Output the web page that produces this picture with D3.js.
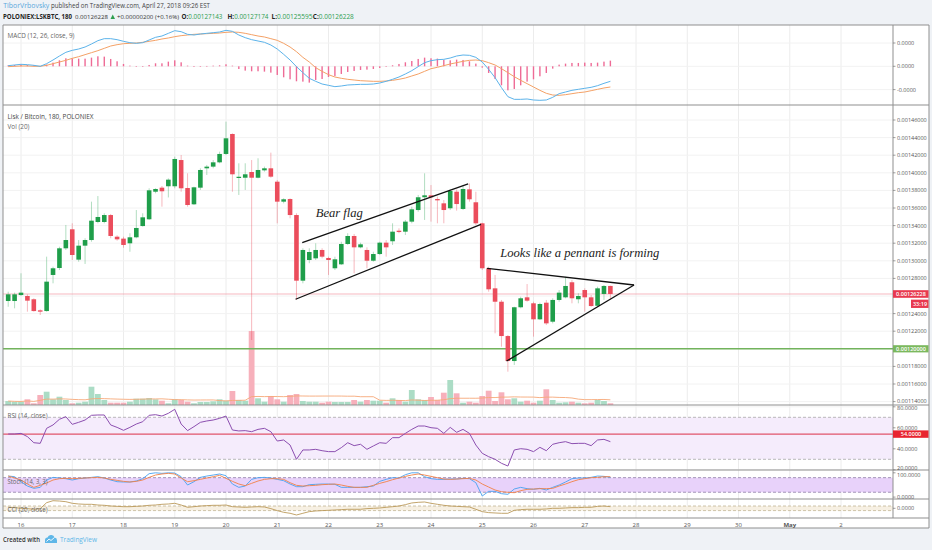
<!DOCTYPE html>
<html><head><meta charset="utf-8">
<script src="https://cdn.jsdelivr.net/npm/d3@7/dist/d3.min.js"></script>
<style>
html,body{margin:0;padding:0;background:#eff2f6;}
svg{display:block;font-family:"Open Sans","Noto Sans",Lato,sans-serif;}
</style></head><body>
<svg id="chart" width="932" height="550"></svg>
<script>
// ---------- DATA (LSK/BTC, 3h candles, Poloniex) ----------
const firstCandle = Date.UTC(2018, 3, 15, 18); // first visible bar
const barHours = 3;

const open = [0.0012543,0.0012543,0.0012611,0.0012600,0.0012563,0.0012437,0.0012429,0.0012839,0.0012918,0.0013142,
0.0013358,0.0013013,0.0013172,0.0013236,0.0013441,0.0013441,0.0013520,0.0013274,0.0013252,0.0013199,
0.0013267,0.0013395,0.0013472,0.0013785,0.0013831,0.0013847,0.0013847,0.0014145,0.0013827,0.0013642,
0.0013831,0.0014051,0.0014070,0.0014119,0.0014214,0.0014441,0.0013941,0.0013944,0.0014009,0.0013944,
0.0014028,0.0014051,0.0013899,0.0013672,0.0013702,0.0013520,0.0012774,0.0013009,0.0013028,0.0013123,
0.0013032,0.0012915,0.0012960,0.0013191,0.0013282,0.0013153,0.0013123,0.0013001,0.0013077,0.0013206,
0.0013222,0.0013342,0.0013331,0.0013445,0.0013577,0.0013722,0.0013744,0.0013702,0.0013653,0.0013597,
0.0013785,0.0013589,0.0013812,0.0013665,0.0013426,0.0012915,0.0012687,0.0012535,0.0012145,0.0011861,
0.0012472,0.0012585,0.0012517,0.0012335,0.0012524,0.0012308,0.0012555,0.0012585,0.0012756,0.0012563,
0.0012668,0.0012585,0.0012489,0.0012623,0.00127143];
const high = [0.0012649,0.0012638,0.0012858,0.0012619,0.0012574,0.0012449,0.0013047,0.0012933,0.0013160,0.0013407,
0.0013426,0.0013236,0.0013256,0.0013672,0.0013736,0.0013540,0.0013532,0.0013290,0.0013274,0.0013313,
0.0013577,0.0013540,0.0013824,0.0013824,0.0013850,0.0013937,0.0014183,0.0014202,0.0013994,0.0013842,
0.0014051,0.0014089,0.0014145,0.0014240,0.0014581,0.0014448,0.0014108,0.0014108,0.0014145,0.0014165,
0.0014070,0.0014229,0.0013918,0.0013710,0.0013710,0.0013540,0.0013142,0.0013142,0.0013199,0.0013142,
0.0013047,0.0013047,0.0013217,0.0013313,0.0013305,0.0013206,0.0013153,0.0013103,0.0013217,0.0013236,
0.0013426,0.0013369,0.0013464,0.0013615,0.0013748,0.0013994,0.0013861,0.0013729,0.0013691,0.0013812,
0.0013810,0.0013861,0.0013880,0.0013785,0.0013433,0.0012933,0.0012839,0.0012555,0.0012157,0.0012478,
0.0012592,0.0012736,0.0012535,0.0012524,0.0012555,0.0012574,0.0012668,0.0012819,0.0012782,0.0012631,
0.0012687,0.0012611,0.0012706,0.0012725,0.00127174];
const low = [0.0012478,0.0012460,0.0012600,0.0012422,0.0012422,0.0012384,0.0012422,0.0012744,0.0012895,0.0013123,
0.0013009,0.0012990,0.0012964,0.0013217,0.0013426,0.0013426,0.0013256,0.0013229,0.0013149,0.0013103,
0.0013256,0.0013388,0.0013464,0.0013767,0.0013615,0.0013720,0.0013824,0.0013785,0.0013615,0.0013634,
0.0013805,0.0013975,0.0014051,0.0014108,0.0014202,0.0013785,0.0013748,0.0013805,0.0012100,0.0013937,
0.0014013,0.0013944,0.0013426,0.0013653,0.0013483,0.0012555,0.0012744,0.0012972,0.0013009,0.0013028,
0.0012839,0.0012895,0.0012952,0.0013180,0.0012858,0.0013142,0.0012915,0.0012990,0.0013066,0.0013047,
0.0013180,0.0013313,0.0013293,0.0013426,0.0013558,0.0013464,0.0013445,0.0013426,0.0013426,0.0013577,
0.0013570,0.0013577,0.0013672,0.0013407,0.0012895,0.0012649,0.0012176,0.0012024,0.0011740,0.0011816,
0.0012460,0.0012535,0.0012138,0.0012327,0.0012270,0.0012289,0.0012535,0.0012574,0.0012517,0.0012517,
0.0012422,0.0012478,0.0012478,0.0012555,0.00125595];
const close = [0.0012619,0.0012619,0.0012638,0.0012547,0.0012429,0.0012422,0.0012763,0.0012915,0.0013142,0.0013236,
0.0013066,0.0013172,0.0013236,0.0013456,0.0013498,0.0013520,0.0013282,0.0013244,0.0013180,0.0013267,
0.0013373,0.0013494,0.0013801,0.0013816,0.0013790,0.0013922,0.0014157,0.0013824,0.0013634,0.0013835,
0.0014032,0.0014070,0.0014119,0.0014214,0.0014392,0.0013983,0.0013955,0.0013983,0.0013944,0.0014032,
0.0014051,0.0013956,0.0013672,0.0013699,0.0013520,0.0012774,0.0013123,0.0013100,0.0013123,0.0013047,
0.0013009,0.0013017,0.0013191,0.0013282,0.0013153,0.0013187,0.0013001,0.0013077,0.0013206,0.0013153,
0.0013331,0.0013327,0.0013445,0.0013585,0.0013722,0.0013744,0.0013722,0.0013687,0.0013577,0.0013793,
0.0013645,0.0013816,0.0013699,0.0013426,0.0012915,0.0012676,0.0012535,0.0012145,0.0011861,0.0012472,
0.0012574,0.0012547,0.0012335,0.0012509,0.0012289,0.0012555,0.0012638,0.0012714,0.0012574,0.0012600,
0.0012585,0.0012486,0.0012687,0.0012714,0.00126228];
// volume (BTC)
const volume = [40,33,33,57,17,100,133,57,83,50,17,23,33,183,110,50,23,23,23,33,
63,63,70,57,43,17,57,50,33,17,30,30,37,57,43,140,50,43,740,67,
33,90,57,33,100,110,40,33,33,23,33,30,30,30,50,33,50,43,43,23,
67,50,33,150,57,50,80,50,123,250,117,23,33,23,90,143,40,127,57,67,
33,43,23,43,157,50,23,27,33,23,17,23,50,40,17];
// MACD (12,26,9) in µBTC
const macdLine = [0.27,0.56,0.85,0.7,0.42,0,1.13,2.7,4.42,6.0,
6.85,7.42,8.28,9.57,11.0,11.86,11.86,11.43,10.72,10.14,
9.86,10.14,11.29,12.43,13.0,14.15,15.29,14.86,13.72,13.43,
13.86,14.15,14.43,14.72,15.44,15.0,13.43,12.29,11.43,10.86,
10.29,9.14,7.42,5.14,2.7,-0.15,-2.73,-5.16,-6.45,-7.6,
-8.17,-8.74,-8.45,-8.03,-7.88,-7.74,-7.74,-7.6,-7.17,-6.45,
-5.59,-4.59,-3.3,-1.88,-0.15,1.56,2.42,2.85,2.99,3.56,
4.42,4.85,4.71,3.85,1.85,-1.3,-4.88,-9.17,-13.03,-14.18,
-14.18,-14.03,-14.46,-14.6,-14.46,-13.32,-11.75,-11.03,-10.31,-9.88,
-9.45,-9.02,-8.31,-7.31,-6.45];
const signalLine = [-0.15,0,0.13,0.13,0,0,0.42,1.13,1.85,2.56,
3.42,4.13,5.0,5.85,6.71,7.71,8.71,9.28,9.71,9.86,
10.0,10.29,10.72,11.14,11.72,12.15,12.72,13.15,13.43,13.72,
13.86,14.0,14.15,14.29,14.58,14.72,14.58,14.15,13.58,13.0,
12.58,11.86,11.14,9.86,8.28,6.28,3.85,1.85,-0.59,-2.16,
-3.59,-4.59,-5.16,-5.59,-5.88,-6.17,-6.31,-6.45,-6.45,-6.31,
-6.02,-5.59,-5.02,-4.16,-3.3,-2.16,-1.02,-0.44,0.27,0.99,
1.56,2.13,2.56,2.7,2.42,1.56,0.56,-1.02,-2.73,-4.45,
-6.02,-7.45,-8.88,-10.31,-11.6,-12.32,-12.46,-12.18,-11.75,-11.32,
-11.03,-10.46,-9.88,-9.31,-8.88];
const rsi = [54.1,54.1,54.7,51.6,45.8,45.2,59.5,62.7,68.1,70.6,
63.3,65.2,67.4,71.9,72.2,72.2,62.7,60.4,57.6,60.4,
63.6,65.8,71.9,72.5,71.2,73.8,77.6,63.6,57.3,61.1,
65.2,66.5,67.4,69.0,71.2,57.9,57.0,57.3,56.3,58.5,
59.5,56.3,47.4,48.4,43.6,30.0,38.9,38.9,39.5,38.2,
37.3,37.3,41.1,45.8,43.0,44.3,39.5,42.7,45.8,45.2,
50.6,50.6,54.7,58.5,61.7,61.7,60.1,59.5,54.7,60.4,
55.7,58.5,54.7,43.6,35.7,32.5,30.0,26.2,23.6,38.9,
40.1,39.5,37.3,41.4,38.2,44.3,45.8,46.8,44.9,45.2,
45.2,43.0,48.4,49.0,46.8];
const stochK = [86.7,84.0,63.4,45.6,36.0,40.1,70.3,81.2,78.5,75.8,
70.3,75.8,78.5,81.2,84.0,78.5,70.3,63.4,62.1,62.1,
66.2,75.8,96.3,100,97.7,100,99.0,84.0,49.7,63.4,
81.2,86.7,90.8,95.0,88.1,53.8,40.1,45.6,73.0,79.9,
81.2,78.5,73.0,67.5,53.8,42.9,42.9,51.1,52.5,53.8,
53.8,52.5,40.1,40.1,40.1,40.1,42.9,45.6,64.8,73.0,
79.9,78.5,92.2,100,100,84.0,75.8,73.0,73.0,74.4,
74.4,77.1,75.8,59.3,4.5,23.7,23.7,14.1,11.4,33.3,
40.1,34.7,31.9,36.0,29.2,40.1,49.7,62.1,75.8,78.5,
78.5,81.2,86.7,85.3,81.2];
const stochD = [86.7,78.5,70.3,53.8,40.1,48.4,58.0,70.3,75.8,77.1,
75.8,77.1,78.5,79.9,81.2,78.5,73.0,68.9,64.8,62.1,
64.8,70.3,81.2,90.8,95.0,97.7,95.0,78.5,63.4,67.5,
73.0,78.5,84.0,89.5,77.1,64.8,53.8,47.0,56.6,66.2,
73.0,75.8,75.8,73.0,59.3,48.4,45.6,47.0,48.4,51.1,
52.5,53.8,49.7,44.2,40.1,40.1,40.1,48.4,56.6,63.4,
71.6,78.5,85.3,90.8,95.0,90.8,85.3,79.9,74.4,73.0,
74.4,75.8,77.1,70.3,53.8,41.5,29.2,22.3,19.6,18.2,
26.4,31.9,33.3,34.7,34.7,36.0,45.6,53.8,63.4,71.6,
75.8,79.9,81.2,84.0,84.0];
const cci = [43,29,0,-14,-43,-14,245,330,316,287,
217,187,174,174,143,130,100,85,70,70,
85,100,130,143,174,187,217,143,43,70,
100,116,130,130,143,70,57,43,57,70,
57,-14,-101,-174,-217,-290,-217,-145,-116,-101,
-87,-72,-58,-43,-43,-43,-14,0,14,43,
70,100,159,232,260,274,217,174,130,100,
85,70,57,-43,-145,-188,-203,-217,-217,-87,
-58,-43,-43,-43,-29,0,0,14,29,29,
43,43,85,100,70];

// ticks / labels
const dayLabels = ["16","17","18","19","20","21","22","23","24","25","26","27","28","29","30","May","2"];
const priceTicks = [0.00114,0.00116,0.00118,0.00120,0.00122,0.00124,0.00126,0.00128,0.00130,0.00132,0.00134,0.00136,0.00138,0.00140,0.00142,0.00144,0.00146];
const macdTicks = [10, 0, -10];
const rsiTicks = [80, 60, 40, 20];
const stochTicks = [100, 0];
const cciTicks = [0];

// user drawings: [bar index, price]
const trendLines = [
  [[45.9, 0.0013206], [71.8, 0.0013873]],
  [[44.86, 0.0012563], [73.8, 0.0013415]],
  [[74.75, 0.0012915], [97.7, 0.0012725]],
  [[77.8, 0.0011861], [97.7, 0.0012725]]
];
const notes = [
  {at: [48.0, 0.0013501], text: "Bear flag"},
  {at: [76.8, 0.0013043], text: "Looks like a pennant is forming"}
];
const supportLevel = 0.0012;
const lastPrice = 0.00126228;
const rsiLevel = 54;
const countdown = "33:19";

// ---------- LAYOUT ----------
const svg = d3.select("#chart");
const L = 3, R = 893, RR = 929, TOP = 25, BOT = 528;
const P = {macd:[25,105], price:[105,405], rsi:[405,470], stoch:[470,499], cci:[499,518]};
const n = close.length;
const H3 = barHours * 3600 * 1000;
const tOf = i => new Date(firstCandle + i * H3);

const x = d3.scaleUtc().domain([Date.UTC(2018,3,16), Date.UTC(2018,4,2)]).range([21, 841]);
const xi = i => x(tOf(i));
const yP = d3.scaleLinear().domain([0.00114, 0.00146]).range([401.6, 120]);
const yV = d3.scaleLinear().domain([0, 1000]).range([405, 305]);
const yM = d3.scaleLinear().domain([-10, 10]).range([89.6, 43]);
const yR = d3.scaleLinear().domain([30, 70]).range([459.3, 417.3]);
const yS = d3.scaleLinear().domain([0, 100]).range([497.1, 472.8]);
const yC = d3.scaleLinear().domain([-100, 100]).range([510.6, 506.0]);

const GREEN = "#1f9e4a", RED = "#eb4d5c";

svg.append("rect").attr("width",932).attr("height",550).attr("fill","#eff2f6");
svg.append("rect").attr("x",L).attr("y",TOP).attr("width",RR-L).attr("height",BOT-TOP).attr("fill","#fff");

const defs = svg.append("defs");
Object.entries(P).forEach(([k,[a,b]]) => {
  defs.append("clipPath").attr("id","clip-"+k).append("rect")
    .attr("x",L).attr("y",a).attr("width",R-L).attr("height",b-a);
});
const pane = k => svg.append("g").attr("clip-path",`url(#clip-${k})`);

function txt(g, X, Y, s, o = {}) {
  const t = g.append("text").attr("x",X).attr("y",Y).text(s)
    .attr("font-size", o.size || 6.5).attr("fill", o.fill || "#555");
  if (o.weight) t.attr("font-weight", o.weight);
  if (o.len) t.attr("textLength", o.len).attr("lengthAdjust","spacingAndGlyphs");
  if (o.anchor) t.attr("text-anchor", o.anchor);
  if (o.family) t.attr("font-family", o.family);
  if (o.style) t.attr("font-style", o.style);
  return t;
}

// ---------- GRID ----------
const days = d3.utcDay.range(Date.UTC(2018,3,16), Date.UTC(2018,4,3));
const grid = svg.append("g");
days.forEach(d => {
  grid.append("line").attr("x1",x(d)).attr("x2",x(d)).attr("y1",TOP).attr("y2",518)
    .attr("stroke","#ececec").attr("stroke-width",1);
});
const hgrid = (ticks, scale) => ticks.forEach(v => grid.append("line")
  .attr("x1",L).attr("x2",R).attr("y1",scale(v)).attr("y2",scale(v)).attr("stroke","#f2f2f2"));
hgrid(priceTicks, yP); hgrid(macdTicks, yM); hgrid(rsiTicks, yR);

// ---------- MACD ----------
const gM = pane("macd");
const hist = macdLine.map((v,i) => v - signalLine[i]);
gM.selectAll("rect.h").data(hist).join("rect")
  .attr("x",(d,i)=>xi(i)-0.7).attr("width",1.4)
  .attr("y",d=>Math.min(yM(d),yM(0))).attr("height",d=>Math.max(0.6,Math.abs(yM(d)-yM(0))))
  .attr("fill","#ee6b96");
const lineM = d3.line().x((d,i)=>xi(i)).y(d=>yM(d));
gM.append("path").attr("d",lineM(signalLine)).attr("fill","none").attr("stroke","#f4a166").attr("stroke-width",1);
gM.append("path").attr("d",lineM(macdLine)).attr("fill","none").attr("stroke","#5cb3ea").attr("stroke-width",1);

// ---------- PRICE ----------
const gP = pane("price");
gP.selectAll("rect.v").data(volume).join("rect")
  .attr("x",(d,i)=>xi(i)-2.9).attr("width",5.8)
  .attr("y",d=>yV(d)).attr("height",d=>yV(0)-yV(d))
  .attr("fill",(d,i)=> close[i] >= open[i] ? "#abdcc5" : "#f7b0bb");
const volMA = volume.map((v,i) => d3.mean(volume.slice(Math.max(0,i-19), i+1)));
gP.append("path").attr("d", d3.line().x((d,i)=>xi(i)).y(d=>yV(d))(volMA))
  .attr("fill","none").attr("stroke","#f6a878").attr("stroke-width",0.9);
gP.append("line").attr("x1",L).attr("x2",R).attr("y1",yP(lastPrice)).attr("y2",yP(lastPrice))
  .attr("stroke","#f4a6b1").attr("stroke-width",0.8);
gP.append("line").attr("x1",L).attr("x2",R).attr("y1",yP(supportLevel)).attr("y2",yP(supportLevel))
  .attr("stroke","#72b35c").attr("stroke-width",1.4);
const idx = d3.range(n);
gP.selectAll("line.w").data(idx).join("line")
  .attr("x1",i=>xi(i)).attr("x2",i=>xi(i)).attr("y1",i=>yP(high[i])).attr("y2",i=>yP(low[i]))
  .attr("stroke",i=> close[i]>=open[i] ? "rgba(31,158,74,0.35)" : "rgba(235,77,92,0.4)").attr("stroke-width",1);
gP.selectAll("rect.c").data(idx).join("rect")
  .attr("x",i=>xi(i)-2.3).attr("width",4.6)
  .attr("y",i=>yP(Math.max(open[i],close[i])))
  .attr("height",i=>Math.max(1, Math.abs(yP(open[i])-yP(close[i]))))
  .attr("fill",i=> close[i]>=open[i] ? GREEN : RED);
trendLines.forEach(([a,b]) => gP.append("line")
  .attr("x1",xi(a[0])).attr("y1",yP(a[1])).attr("x2",xi(b[0])).attr("y2",yP(b[1]))
  .attr("stroke","#111").attr("stroke-width",1.3));
notes.forEach(nt => txt(gP, xi(nt.at[0]), yP(nt.at[1]), nt.text,
  {size:12.6, fill:"#222", family:"'Liberation Serif','DejaVu Serif',serif", style:"italic"}));

// ---------- RSI ----------
const gR = pane("rsi");
gR.append("rect").attr("x",L).attr("width",R-L).attr("y",yR(70)).attr("height",yR(30)-yR(70)).attr("fill","#f5ecfc");
[70,30].forEach(v=>gR.append("line").attr("x1",L).attr("x2",R).attr("y1",yR(v)).attr("y2",yR(v))
  .attr("stroke","#a8a8a8").attr("stroke-dasharray","3,2").attr("stroke-width",0.8));
gR.append("line").attr("x1",L).attr("x2",R).attr("y1",yR(rsiLevel)).attr("y2",yR(rsiLevel))
  .attr("stroke","#e0556b").attr("stroke-width",1.3);
gR.append("path").attr("d", d3.line().x((d,i)=>xi(i)).y(d=>yR(d))(rsi))
  .attr("fill","none").attr("stroke","#8c4fb0").attr("stroke-width",1);

// ---------- STOCH ----------
const gS = pane("stoch");
gS.append("rect").attr("x",L).attr("width",R-L).attr("y",yS(80)).attr("height",yS(20)-yS(80)).attr("fill","#e8d2fa");
[80,20].forEach(v=>gS.append("line").attr("x1",L).attr("x2",R).attr("y1",yS(v)).attr("y2",yS(v))
  .attr("stroke","#8e7fa6").attr("stroke-dasharray","3,2").attr("stroke-width",0.8));
const lineS = d3.line().x((d,i)=>xi(i)).y(d=>yS(d));
gS.append("path").attr("d",lineS(stochK)).attr("fill","none").attr("stroke","#47a2ef").attr("stroke-width",0.9);
gS.append("path").attr("d",lineS(stochD)).attr("fill","none").attr("stroke","#f28146").attr("stroke-width",0.9);

// ---------- CCI ----------
const gC = pane("cci");
gC.append("rect").attr("x",L).attr("width",R-L).attr("y",yC(100)).attr("height",yC(-100)-yC(100)).attr("fill","#f7f0e3");
[100,-100].forEach(v=>gC.append("line").attr("x1",L).attr("x2",R).attr("y1",yC(v)).attr("y2",yC(v))
  .attr("stroke","#c2b595").attr("stroke-dasharray","3,2").attr("stroke-width",0.8));
gC.append("path").attr("d", d3.line().x((d,i)=>xi(i)).y(d=>yC(d))(cci))
  .attr("fill","none").attr("stroke","#bb9a5a").attr("stroke-width",0.9);

// ---------- FRAMES ----------
const fr = svg.append("g").attr("stroke","#8f8f8f").attr("stroke-width",1);
[25,105,405,470,499,518,528].forEach(y=>fr.append("line").attr("x1",L).attr("x2",RR).attr("y1",y).attr("y2",y));
fr.append("line").attr("x1",L).attr("x2",L).attr("y1",TOP).attr("y2",BOT);
fr.append("line").attr("x1",RR).attr("x2",RR).attr("y1",TOP).attr("y2",BOT);
fr.append("line").attr("x1",R).attr("x2",R).attr("y1",TOP).attr("y2",518);

// ---------- RIGHT AXES ----------
const ax = svg.append("g");
function axis(ticks, scale, fmt, hidden = [], dy = () => 0) {
  ticks.forEach(v => {
    const y = scale(v);
    ax.append("line").attr("x1",R).attr("x2",R+2.5).attr("y1",y).attr("y2",y).attr("stroke","#777").attr("stroke-width",0.7);
    if (hidden.some(h => Math.abs(scale(h) - y) < 5)) return; // covered by a price tag
    txt(ax, R+4, y+2+dy(v), fmt(v), {size:5.5, fill:"#555"});
  });
}
axis(macdTicks, yM, v => (v*1e-6).toFixed(4));
axis(priceTicks, yP, v => v.toFixed(8), [lastPrice, supportLevel], v => v === 0.00114 ? -1 : 0);
axis(rsiTicks, yR, v => v.toFixed(4), [], v => v === 20 ? -1.5 : (v === 80 ? 1.2 : 0));
axis(stochTicks, yS, v => v.toFixed(4), [], v => v === 100 ? 1.8 : 0);
axis(cciTicks, yC, v => v.toFixed(4));

function tag(y, h, x0, label, bg) {
  ax.append("rect").attr("x",x0).attr("y",y-h/2).attr("width",RR-x0-0.5).attr("height",h).attr("fill",bg);
  txt(ax, x0+(RR-x0)/2, y+1.9, label, {size:5.5, fill:"#fff", anchor:"middle", weight:600});
}
tag(yP(lastPrice), 7.6, R, lastPrice.toFixed(8), "#e8394f");
tag(yP(lastPrice)+9.8, 8.3, 911, countdown, "#e8394f");
tag(yP(supportLevel), 7.2, R, supportLevel.toFixed(8), "#7bb85e");
tag(yR(rsiLevel), 7.4, R, rsiLevel.toFixed(4), "#e8242f");

// ---------- TIME AXIS ----------
days.forEach((d,i) => {
  if (x(d) > R - 5) return;
  txt(svg, x(d), 526.5, dayLabels[i], {size:6, fill:"#555", anchor:"middle", weight: dayLabels[i]==="May" ? 700 : null});
});

// ---------- PANE TITLES ----------
txt(svg, 7.5, 37.5, "MACD (12, 26, close, 9)", {size:6.5, fill:"#666", len:67});
txt(svg, 7.5, 118.5, "Lisk / Bitcoin, 180, POLONIEX", {size:6.5, fill:"#444", len:86});
txt(svg, 7.5, 128.5, "Vol (20)", {size:6.5, fill:"#666", len:22});
txt(svg, 7.5, 418, "RSI (14, close)", {size:6.5, fill:"#666", len:40});
txt(svg, 7.5, 483.5, "Stoch (14, 3, 3)", {size:6.5, fill:"#666", len:40});
txt(svg, 7.5, 511.5, "CCI (20, close)", {size:6.5, fill:"#666", len:40});

// ---------- HEADER ----------
const hd = svg.append("g");
txt(hd, 3.3, 8.3, "TiborVrbovsky", {size:6.9, fill:"#5aa7dc", len:46});
txt(hd, 51, 8.3, "published on TradingView.com, April 27, 2018 09:26 EST", {size:6.9, fill:"#444", len:159});
txt(hd, 3, 19, "POLONIEX:LSKBTC, 180", {size:6.1, fill:"#222", weight:700, len:69});
txt(hd, 75, 19, lastPrice.toFixed(8), {size:6.1, fill:"#333", len:33});
hd.append("path").attr("d","M110.5,19 L115,19 L112.75,14.5 Z").attr("fill","#2e9e4f");
txt(hd, 117, 19, "+0.00000200 (+0.16%)", {size:6.0, fill:"#333", len:62});
const ohlc = [["O:",open[n-1],181.5],["H:",high[n-1],227.5],["L:",low[n-1],271.5],["C:",close[n-1],312.8]];
ohlc.forEach(([k,v,X]) => {
  const t = hd.append("text").attr("x",X).attr("y",19).attr("font-size",6.2)
    .attr("textLength",41).attr("lengthAdjust","spacingAndGlyphs");
  t.append("tspan").attr("font-weight",700).attr("fill","#222").text(k);
  t.append("tspan").attr("fill","#2e9e4f").text(v.toFixed(8));
});

// ---------- FOOTER ----------
txt(svg, 3, 542, "Created with", {size:6.5, fill:"#333", weight:600, len:37});
svg.append("path").attr("d","M45,543 L45,540 Q45,537.5 47.5,537.5 Q48.5,534.5 51.5,535 Q54,535.2 54.5,537.5 Q57,537.8 57,540.3 L57,543 Z")
  .attr("fill","#5fb7e8");
svg.append("path").attr("d","M46.5,541.5 L49,539 L51,540.5 L54.5,537.5").attr("fill","none").attr("stroke","#fff").attr("stroke-width",0.9);
txt(svg, 60, 542, "TradingView", {size:7, fill:"#5db7e8", len:37});
</script></body></html>
